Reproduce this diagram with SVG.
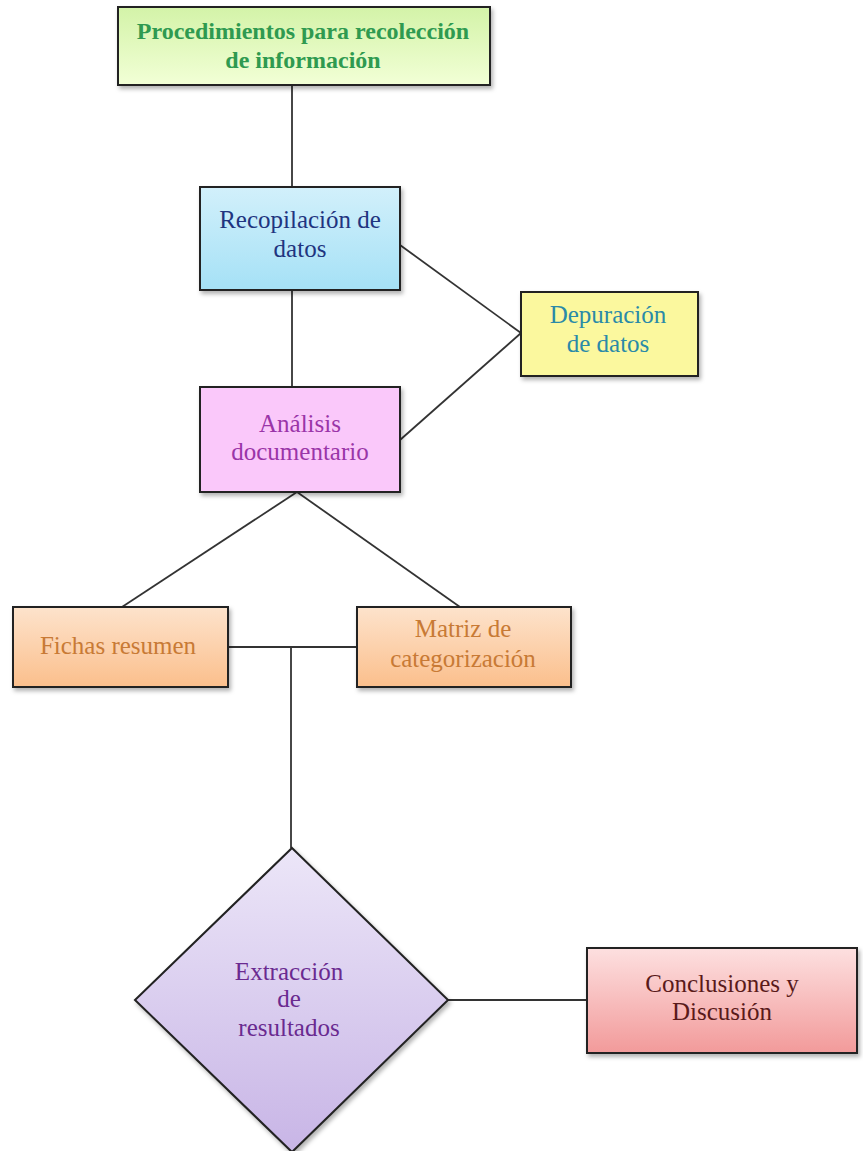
<svg xmlns="http://www.w3.org/2000/svg" width="863" height="1151" viewBox="0 0 863 1151">
<style>
.box{stroke:#222;stroke-width:2}
.t{font-family:"Liberation Serif","DejaVu Serif","Times New Roman",serif;font-size:25px;text-anchor:middle}
.c{stroke:#333;stroke-width:1.8;fill:none}
</style>
<defs>
<filter id="sh" x="-10%" y="-10%" width="125%" height="130%"><feDropShadow dx="2" dy="3" stdDeviation="2" flood-color="#000" flood-opacity="0.3"/></filter>
<linearGradient id="gGreen" x1="0" y1="0" x2="0" y2="1"><stop offset="0" stop-color="#d3f3a8"/><stop offset="1" stop-color="#f2ffd6"/></linearGradient>
<linearGradient id="gBlue" x1="0" y1="0" x2="0" y2="1"><stop offset="0" stop-color="#d2f0fb"/><stop offset="1" stop-color="#a5e1f6"/></linearGradient>
<linearGradient id="gOrange" x1="0" y1="0" x2="0" y2="1"><stop offset="0" stop-color="#fde3cc"/><stop offset="1" stop-color="#fbbf8c"/></linearGradient>
<linearGradient id="gPurple" x1="0" y1="0" x2="0" y2="1"><stop offset="0" stop-color="#ece6f8"/><stop offset="1" stop-color="#c8b5e6"/></linearGradient>
<linearGradient id="gRed" x1="0" y1="0" x2="0" y2="1"><stop offset="0" stop-color="#fde0e0"/><stop offset="1" stop-color="#f29a9a"/></linearGradient>
</defs>
<rect width="863" height="1151" fill="#fff"/>
<g id="connectors">
<line class="c" x1="292" y1="85" x2="292" y2="187"/>
<line class="c" x1="292" y1="290" x2="292" y2="387"/>
<line class="c" x1="400" y1="245" x2="521" y2="333"/>
<line class="c" x1="400" y1="440" x2="521" y2="333"/>
<line class="c" x1="297" y1="492" x2="122" y2="607"/>
<line class="c" x1="297" y1="492" x2="460" y2="607"/>
<line class="c" x1="228" y1="647" x2="357" y2="647"/>
<line class="c" x1="291" y1="647" x2="291" y2="848"/>
<line class="c" x1="448" y1="1000" x2="587" y2="1000"/>
</g>
<g id="n-procedimientos">
<rect class="box" x="118" y="7" width="372" height="78" fill="url(#gGreen)" filter="url(#sh)"/>
<text class="t" x="303" y="39" fill="#2f9a50" font-weight="bold" style="font-size:24px">Procedimientos para recolección</text>
<text class="t" x="303" y="68" fill="#2f9a50" font-weight="bold" style="font-size:24px">de información</text>
</g>
<g id="n-recopilacion">
<rect class="box" x="200" y="187" width="200" height="103" fill="url(#gBlue)" filter="url(#sh)"/>
<text class="t" x="300" y="228" fill="#1f3580">Recopilación de</text>
<text class="t" x="300" y="257" fill="#1f3580">datos</text>
</g>
<g id="n-depuracion">
<rect class="box" x="521" y="292" width="177" height="84" fill="#fbf89e" filter="url(#sh)"/>
<text class="t" x="608" y="323" fill="#2a8aa8">Depuración</text>
<text class="t" x="608" y="352" fill="#2a8aa8">de datos</text>
</g>
<g id="n-analisis">
<rect class="box" x="200" y="387" width="200" height="105" fill="#fac8fa" filter="url(#sh)"/>
<text class="t" x="300" y="432" fill="#9a35a8">Análisis</text>
<text class="t" x="300" y="460" fill="#9a35a8">documentario</text>
</g>
<g id="n-fichas">
<rect class="box" x="13" y="607" width="215" height="80" fill="url(#gOrange)" filter="url(#sh)"/>
<text class="t" x="118" y="654" fill="#c87a35">Fichas resumen</text>
</g>
<g id="n-matriz">
<rect class="box" x="357" y="607" width="214" height="80" fill="url(#gOrange)" filter="url(#sh)"/>
<text class="t" x="463" y="637" fill="#c87a35">Matriz de</text>
<text class="t" x="463" y="667" fill="#c87a35">categorización</text>
</g>
<g id="n-extraccion">
<polygon class="box" points="292,848 448,1000 292,1152 135,1000" fill="url(#gPurple)" filter="url(#sh)"/>
<text class="t" x="289" y="980" fill="#6a2a90">Extracción</text>
<text class="t" x="289" y="1007" fill="#6a2a90">de</text>
<text class="t" x="289" y="1036" fill="#6a2a90">resultados</text>
</g>
<g id="n-conclusiones">
<rect class="box" x="587" y="948" width="270" height="105" fill="url(#gRed)" filter="url(#sh)"/>
<text class="t" x="722" y="992" fill="#5a1a1a">Conclusiones y</text>
<text class="t" x="722" y="1020" fill="#5a1a1a">Discusión</text>
</g>
</svg>
